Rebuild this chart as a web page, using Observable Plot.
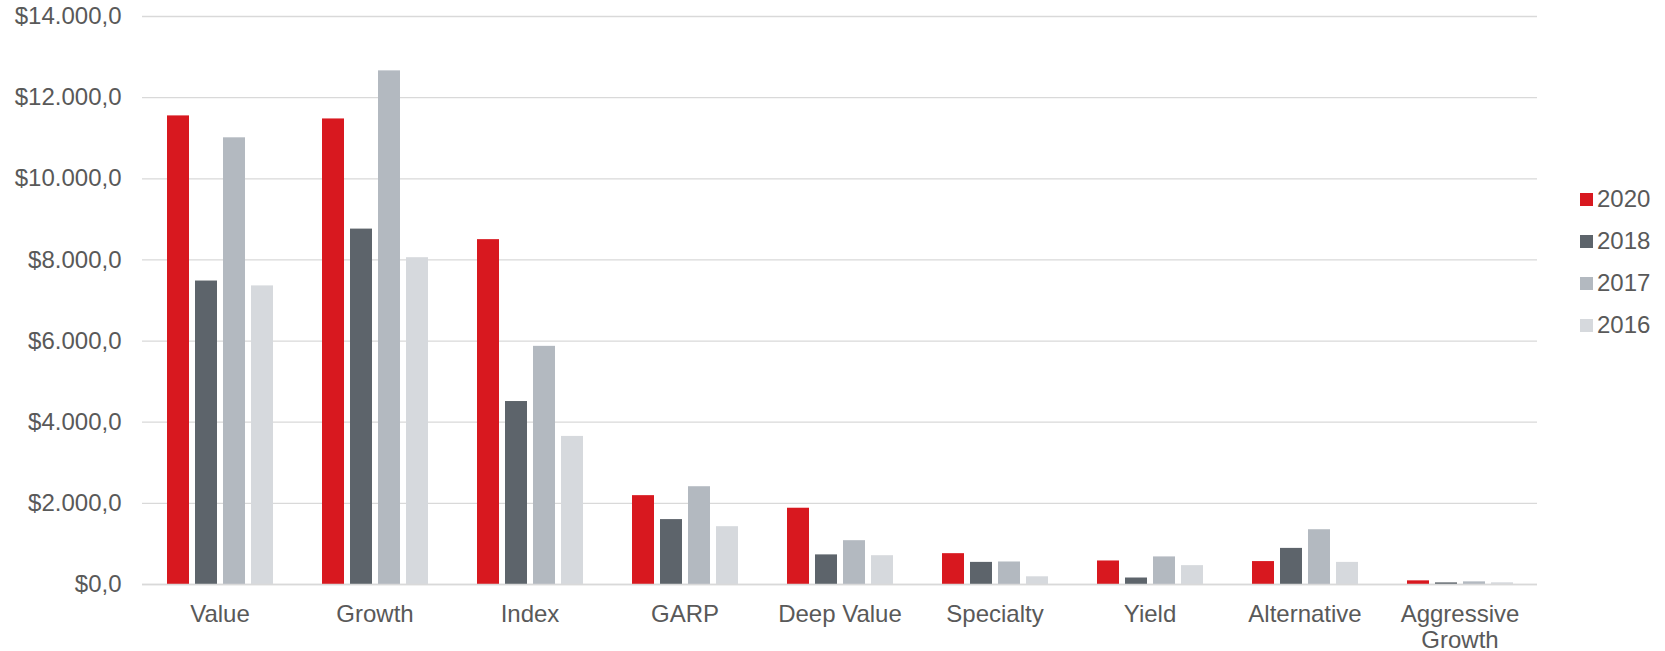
<!DOCTYPE html>
<html>
<head>
<meta charset="utf-8">
<script src="https://cdn.jsdelivr.net/npm/d3@7"></script>
<script src="https://cdn.jsdelivr.net/npm/@observablehq/plot@0.6"></script>
<style>
  html, body { margin: 0; padding: 0; background: #ffffff; }
  #wrap { position: relative; width: 1665px; height: 651px; font-family: "Liberation Sans", Arial, sans-serif; color: #595959; }
  #legend { position: absolute; left: 1580px; top: 178px; font-size: 24px; }
  .item { display: flex; align-items: center; height: 42px; }
  .swatch { width: 13px; height: 13px; margin-right: 4px; }
</style>
</head>
<body>
<div id="wrap"><div id="legend"></div></div>
<script>
// Investment styles, in display order
const categories = ["Value", "Growth", "Index", "GARP", "Deep Value", "Specialty", "Yield", "Alternative", "Aggressive Growth"];
const years = ["2020", "2018", "2017", "2016"];
const colors = ["#d8181f", "#5d646b", "#b3b9c0", "#d6d9dd"];

// Values per style, one list per year
const values2020 = [11550, 11475, 8500, 2190, 1880, 760, 580, 565, 90];
const values2018 = [7480, 8760, 4510, 1600, 730, 545, 160, 890, 40];
const values2017 = [11010, 12660, 5870, 2410, 1080, 555, 680, 1350, 65];
const values2016 = [7360, 8055, 3650, 1425, 710, 190, 465, 545, 42];

const yTicks = [0, 2000, 4000, 6000, 8000, 10000, 12000, 14000];

const series = {"2020": values2020, "2018": values2018, "2017": values2017, "2016": values2016};
const rows = [];
for (const year of years) {
  categories.forEach((category, i) => rows.push({category, year, value: series[year][i]}));
}

const locale = d3.formatLocale({decimal: ",", thousands: ".", grouping: [3], currency: ["$", ""]});
const money = locale.format("$,.1f");

const chart = Plot.plot({
  width: 1540 + 125,
  height: 651,
  marginLeft: 138,
  marginRight: 125,
  marginTop: 16,
  marginBottom: 67,
  style: {fontFamily: "'Liberation Sans', Arial, sans-serif", fontSize: "24px", color: "#595959", background: "#ffffff"},
  fx: {domain: categories, padding: 0, label: null},
  x: {domain: years, paddingInner: 0.2235, paddingOuter: 0.8617, axis: null},
  y: {domain: [0, 14000], label: null},
  color: {domain: years, range: colors},
  marks: [
    Plot.gridY(yTicks, {stroke: "#d9d9d9", strokeOpacity: 1, strokeWidth: 1.3}),
    Plot.barY(rows, {fx: "category", x: "year", y: "value", fill: "year"}),
    Plot.ruleY([0], {stroke: "#d9d9d9", strokeWidth: 1.5}),
    Plot.axisY(yTicks, {tickSize: 0, tickPadding: 21, tickFormat: money, label: null, fill: "#595959"}),
    Plot.axisFx({
      anchor: "bottom", tickSize: 0, tickPadding: 18, label: null, fill: "#595959", lineHeight: 1.12,
      tickFormat: d => d.replace("Aggressive Growth", "Aggressive\nGrowth")
    })
  ]
});

const wrap = document.getElementById("wrap");
wrap.insertBefore(chart, wrap.firstChild);

// Legend to the right of the plot
const legend = document.getElementById("legend");
years.forEach((year, i) => {
  const item = document.createElement("div");
  item.className = "item";
  const sw = document.createElement("span");
  sw.className = "swatch";
  sw.style.background = colors[i];
  const label = document.createElement("span");
  label.textContent = year;
  item.append(sw, label);
  legend.append(item);
});
</script>
</body>
</html>
